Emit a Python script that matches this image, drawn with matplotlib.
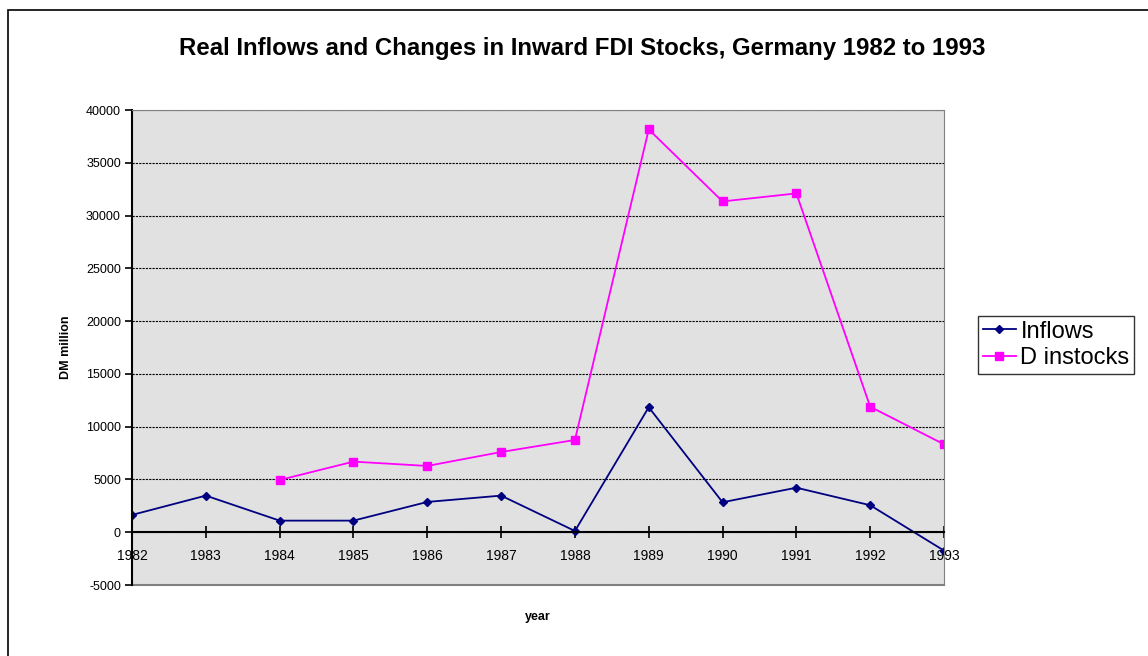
import matplotlib.pyplot as plt
import matplotlib.patches as patches
import numpy as np

plt.rcParams['font.family'] = ['Liberation Sans', 'DejaVu Sans']

years = [1982, 1983, 1984, 1985, 1986, 1987, 1988, 1989, 1990, 1991, 1992, 1993]
inflows = [1640, 3470, 1100, 1100, 2870, 3470, 120, 11840, 2840, 4220, 2560, -1740]
d_years = [1984, 1985, 1986, 1987, 1988, 1989, 1990, 1991, 1992, 1993]
d_instocks = [4950, 6690, 6280, 7600, 8740, 38160, 31340, 32100, 11890, 8330]
y_ticks = np.arange(-5000, 40001, 5000)

fig = plt.figure(figsize=(11.48, 6.56), dpi=100)
ax = fig.add_axes([0.115, 0.1082, 0.7073, 0.7241])

# outer chart frame
fig.patches.append(patches.Rectangle((8 / 1148, -0.1), 1.2, 1 - 10 / 656 + 0.1,
                                     transform=fig.transFigure, fill=False,
                                     edgecolor='black', linewidth=1.2))

ax.set_facecolor('#e1e1e1')
ax.plot(years, inflows, color='#000080', marker='D', markersize=4.5, linewidth=1.3, label='Inflows')
ax.plot(d_years, d_instocks, color='#ff00ff', marker='s', markersize=5.5, linewidth=1.3, label='D instocks')

ax.set_xlim(1982, 1993)
ax.set_ylim(-5000, 40000)
ax.set_yticks(y_ticks)
ax.set_yticklabels([str(v) for v in y_ticks], fontsize=9)
ax.set_xticks(years)
ax.set_xticklabels([str(y) for y in years], fontsize=9)
for lab in ax.get_xticklabels():
    lab.set_bbox(dict(facecolor='white', edgecolor='none', pad=1))

ax.yaxis.grid(True, linestyle=(0, (2, 1)), color='black', linewidth=0.8)
ax.set_axisbelow(True)

ax.spines['bottom'].set_position(('data', 0))
ax.spines['bottom'].set_linewidth(1.5)
ax.spines['left'].set_linewidth(1.5)
ax.spines['top'].set_color('gray')
ax.spines['right'].set_color('gray')
ax.axhline(-5000, color='gray', linewidth=1.5, clip_on=False)
ax.tick_params(axis='x', direction='inout', length=8, width=1.2, pad=8)
ax.tick_params(axis='y', direction='out', length=5, width=1.2, pad=3)

ax.set_ylabel('DM million', fontsize=9, fontweight='bold', labelpad=10)
ax.set_xlabel('year', fontsize=9, fontweight='bold')
ax.xaxis.set_label_coords(0.5, -0.055, transform=ax.transAxes)
fig.text(0.507, 0.926, 'Real Inflows and Changes in Inward FDI Stocks, Germany 1982 to 1993',
         ha='center', va='center', fontsize=17.3, fontweight='bold')

leg = ax.legend(loc='center left', bbox_to_anchor=(978 / 1148, 1 - 345 / 656),
                bbox_transform=fig.transFigure, fontsize=17, frameon=True, fancybox=False,
                handlelength=1.4, handletextpad=0.2, borderpad=0.2, labelspacing=0.2,
                borderaxespad=0)
leg.get_frame().set_edgecolor('black')
leg.get_frame().set_linewidth(1.0)

plt.savefig('out.png', dpi=100)
